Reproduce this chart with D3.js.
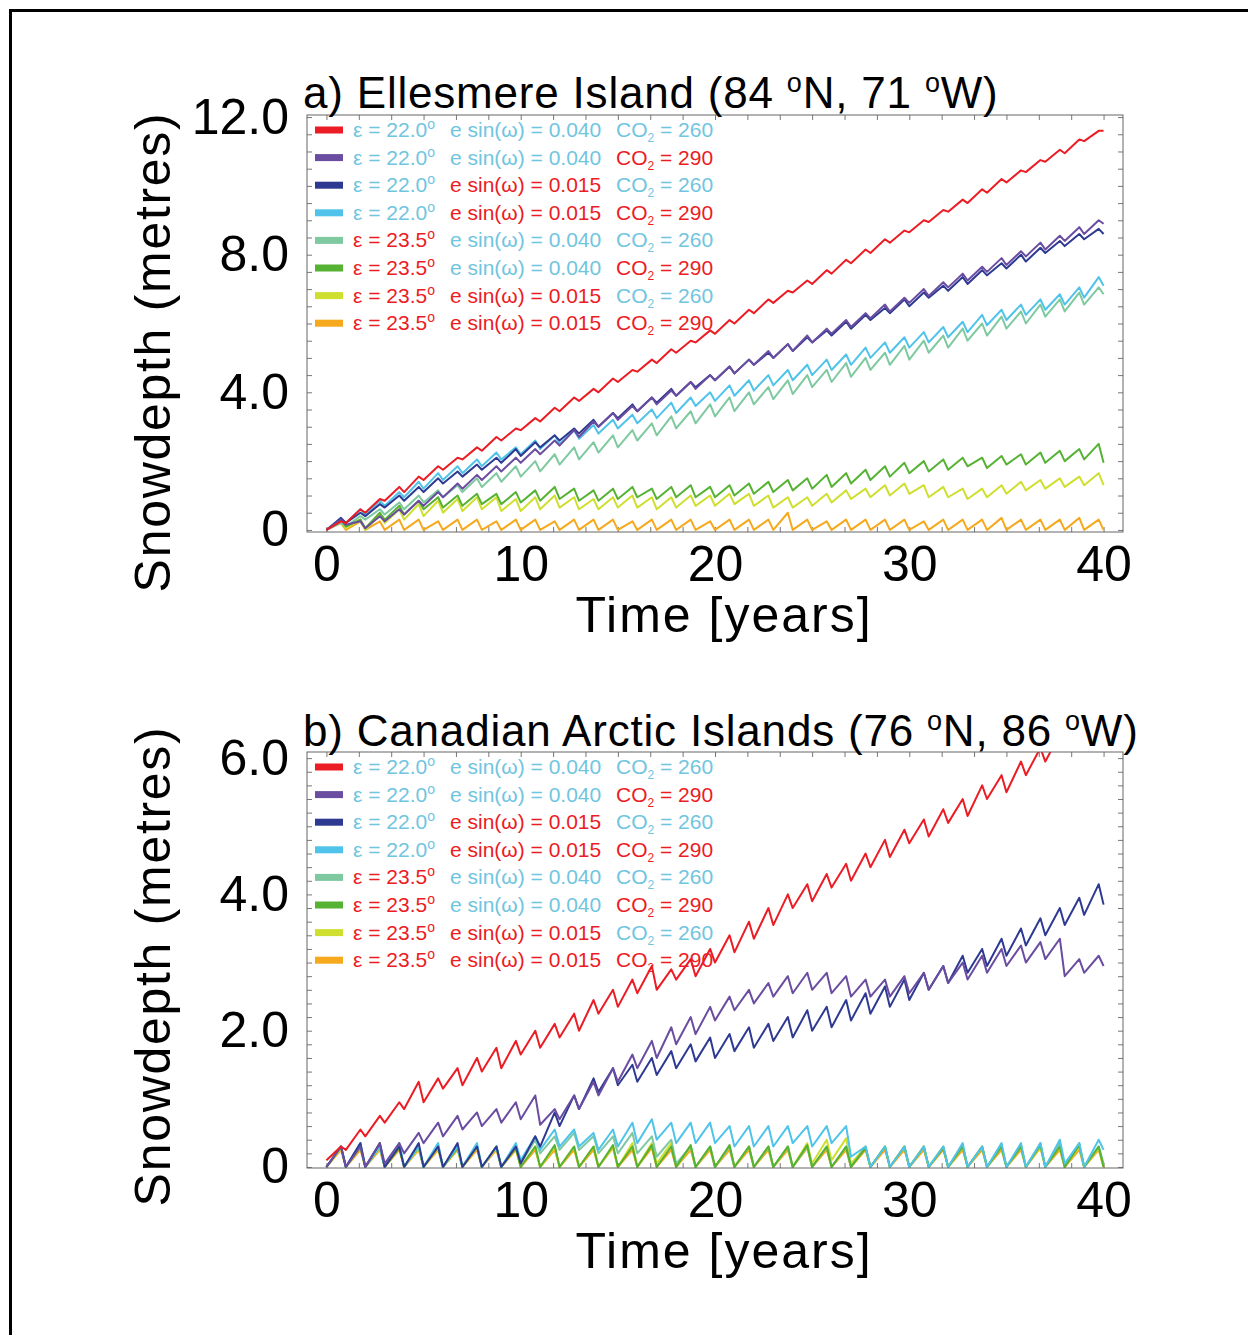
<!DOCTYPE html>
<html>
<head>
<meta charset="utf-8">
<script src="https://cdn.jsdelivr.net/npm/d3@7"></script>
<style>
  body { margin: 0; background: #fff; }
  svg { display: block; }
  text { font-family: "Liberation Sans", Arial, sans-serif; }
</style>
</head>
<body>
<div id="chart"></div>
<script>
// legend rows (same 8 experiments in both panels)
const legendEps = ["22.0", "22.0", "22.0", "22.0", "23.5", "23.5", "23.5", "23.5"];
const legendEsin = ["0.040", "0.040", "0.015", "0.015", "0.040", "0.040", "0.015", "0.015"];
const legendCO2 = ["260", "290", "260", "290", "260", "290", "260", "290"];
const seriesColors = ["#ec1c24", "#6a4ca0", "#2e3a92", "#4fc3ea", "#7fc9a0", "#55b232", "#cfdf30", "#f6a91c"];

const xTickValues = [0, 10, 20, 30, 40];
const aYTickValues = [0, 4, 8, 12];
const bYTickValues = [0, 2, 4, 6];

// each series: value at t=0, then per year [value near end of winter (k+0.75), value after melt (k+1)]
const aRed = [0,
  0.25,0.2, 0.6,0.5, 0.9,0.85, 1.25,1.1, 1.55,1.45, 1.85,1.75, 2.1,2.05, 2.4,2.3, 2.7,2.6, 2.95,2.9,
  3.25,3.15, 3.55,3.45, 3.85,3.75, 4.1,4.0, 4.4,4.3, 4.65,4.6, 4.95,4.85, 5.25,5.15, 5.5,5.45, 5.8,5.7,
  6.1,6.0, 6.4,6.3, 6.7,6.6, 6.95,6.9, 7.25,7.15, 7.55,7.45, 7.85,7.75, 8.15,8.05, 8.45,8.35, 8.7,8.65,
  9.0,8.95, 9.3,9.25, 9.6,9.5, 9.9,9.8, 10.2,10.1, 10.45,10.4, 10.75,10.7, 11.05,10.95, 11.35,11.3, 11.6,11.6];
const aPurple = [0,
  0.3,0.15, 0.25,0.05, 0.4,0.25, 0.6,0.45, 0.85,0.7, 1.1,0.95, 1.35,1.2, 1.6,1.45, 1.85,1.7, 2.1,1.95,
  2.35,2.2, 2.6,2.45, 2.9,2.7, 3.15,3.0, 3.4,3.2, 3.6,3.45, 3.85,3.65, 4.05,3.9, 4.3,4.1, 4.5,4.35,
  4.75,4.55, 4.95,4.8, 5.2,5.0, 5.4,5.2, 5.65,5.45, 5.85,5.7, 6.1,5.9, 6.3,6.15, 6.55,6.35, 6.75,6.6,
  7.0,6.8, 7.2,7.05, 7.45,7.25, 7.65,7.5, 7.9,7.7, 8.1,7.95, 8.35,8.15, 8.55,8.4, 8.8,8.6, 9.0,8.9];
const aBlue = [0,
  0.35,0.2, 0.5,0.4, 0.75,0.65, 1.0,0.85, 1.25,1.1, 1.5,1.35, 1.7,1.55, 1.9,1.75, 2.1,1.95, 2.35,2.15,
  2.55,2.4, 2.75,2.6, 2.95,2.8, 3.2,3.0, 3.4,3.25, 3.65,3.45, 3.85,3.7, 4.1,3.9, 4.3,4.15, 4.5,4.35,
  4.75,4.55, 4.95,4.8, 5.15,5.0, 5.4,5.2, 5.6,5.45, 5.8,5.65, 6.05,5.85, 6.25,6.1, 6.45,6.3, 6.7,6.5,
  6.9,6.75, 7.1,6.95, 7.35,7.15, 7.55,7.4, 7.75,7.6, 8.0,7.8, 8.2,8.05, 8.4,8.25, 8.6,8.45, 8.75,8.6];
const aLightBlue = [0,
  0.3,0.2, 0.6,0.45, 0.85,0.7, 1.1,0.95, 1.4,1.2, 1.65,1.45, 1.85,1.65, 2.05,1.85, 2.25,2.05, 2.4,2.2,
  2.6,2.35, 2.75,2.5, 2.9,2.65, 3.05,2.8, 3.2,2.95, 3.35,3.1, 3.5,3.25, 3.7,3.4, 3.85,3.6, 4.0,3.75,
  4.2,3.9, 4.35,4.05, 4.5,4.2, 4.65,4.35, 4.8,4.5, 4.95,4.65, 5.1,4.8, 5.3,5.0, 5.45,5.15, 5.6,5.3,
  5.75,5.45, 5.9,5.6, 6.05,5.75, 6.25,5.95, 6.4,6.1, 6.55,6.25, 6.7,6.4, 6.85,6.55, 7.05,6.75, 7.35,7.1];
const aTeal = [0,
  0.2,0.1, 0.4,0.3, 0.6,0.45, 0.8,0.6, 1.0,0.8, 1.15,0.95, 1.3,1.1, 1.5,1.25, 1.65,1.4, 1.85,1.55,
  2.0,1.7, 2.2,1.9, 2.4,2.05, 2.55,2.25, 2.75,2.4, 2.9,2.6, 3.1,2.75, 3.3,2.95, 3.45,3.1, 3.65,3.3,
  3.85,3.45, 4.0,3.65, 4.15,3.8, 4.35,3.95, 4.5,4.15, 4.65,4.3, 4.85,4.45, 5.0,4.65, 5.15,4.8, 5.35,4.95,
  5.5,5.15, 5.65,5.3, 5.85,5.5, 6.0,5.65, 6.2,5.85, 6.35,6.0, 6.55,6.2, 6.7,6.35, 6.9,6.55, 7.05,6.85];
const aGreen = [0,
  0.3,0.1, 0.3,0.05, 0.5,0.3, 0.7,0.45, 0.85,0.6, 0.95,0.65, 1.0,0.7, 1.05,0.75, 1.05,0.75, 1.1,0.8,
  1.15,0.85, 1.25,0.9, 1.2,0.85, 1.15,0.85, 1.2,0.9, 1.25,0.95, 1.2,0.9, 1.25,0.95, 1.3,0.95, 1.25,0.95,
  1.3,1.0, 1.35,1.05, 1.4,1.1, 1.45,1.15, 1.5,1.2, 1.6,1.25, 1.65,1.35, 1.75,1.45, 1.85,1.55, 1.95,1.65,
  2.0,1.7, 2.05,1.75, 2.1,1.85, 2.1,1.8, 2.15,1.9, 2.2,1.9, 2.25,1.95, 2.3,2.0, 2.35,2.05, 2.5,1.95];
const aYellow = [0,
  0.25,0.05, 0.3,0.0, 0.45,0.2, 0.6,0.3, 0.75,0.4, 0.85,0.5, 0.9,0.55, 0.95,0.6, 0.95,0.55, 0.9,0.55,
  0.95,0.6, 1.0,0.65, 0.95,0.6, 0.9,0.6, 0.95,0.65, 1.0,0.65, 0.95,0.6, 0.95,0.65, 1.0,0.7, 1.0,0.7,
  1.05,0.75, 1.05,0.7, 1.0,0.65, 0.95,0.65, 0.95,0.7, 1.05,0.8, 1.15,0.9, 1.2,0.95, 1.3,1.0, 1.35,1.05,
  1.3,0.95, 1.25,0.95, 1.2,0.9, 1.2,0.95, 1.3,1.05, 1.4,1.15, 1.45,1.2, 1.5,1.25, 1.55,1.3, 1.65,1.3];
const aOrange = [0,
  0.2,0.0, 0.25,0.0, 0.25,0.0, 0.3,0.0, 0.3,0.0, 0.25,0.0, 0.3,0.0, 0.3,0.0, 0.25,0.0, 0.3,0.0,
  0.3,0.0, 0.25,0.0, 0.3,0.0, 0.3,0.0, 0.3,0.0, 0.25,0.0, 0.3,0.0, 0.3,0.0, 0.3,0.0, 0.25,0.0,
  0.3,0.0, 0.3,0.0, 0.3,0.0, 0.5,0.0, 0.3,0.0, 0.25,0.0, 0.3,0.0, 0.3,0.0, 0.3,0.0, 0.3,0.0,
  0.25,0.0, 0.3,0.0, 0.3,0.0, 0.3,0.0, 0.35,0.0, 0.3,0.0, 0.3,0.0, 0.3,0.0, 0.35,0.0, 0.3,0.0];

const bRed = [0.1,
  0.3,0.25, 0.55,0.45, 0.75,0.65, 0.95,0.85, 1.25,0.95, 1.3,1.15, 1.45,1.2, 1.6,1.4, 1.75,1.45, 1.85,1.65,
  2.0,1.75, 2.1,1.9, 2.25,2.0, 2.45,2.25, 2.6,2.35, 2.75,2.55, 2.95,2.6, 2.9,2.75, 3.05,2.8, 3.2,3.0,
  3.4,3.15, 3.6,3.35, 3.8,3.55, 4.0,3.8, 4.15,3.9, 4.3,4.1, 4.45,4.2, 4.6,4.4, 4.8,4.55, 4.95,4.75,
  5.1,4.85, 5.25,5.05, 5.4,5.15, 5.6,5.4, 5.75,5.5, 5.95,5.75, 6.15,5.95, 6.35,6.2, 6.5,6.35, 6.7,6.55];
const bPurple = [0,
  0.3,0.0, 0.3,0.0, 0.35,0.05, 0.35,0.2, 0.5,0.35, 0.65,0.45, 0.75,0.55, 0.8,0.6, 0.85,0.65, 0.95,0.7,
  1.05,0.62, 0.85,0.7, 1.05,0.85, 1.25,1.05, 1.45,1.25, 1.65,1.45, 1.85,1.6, 2.05,1.8, 2.2,1.95, 2.35,2.15,
  2.5,2.3, 2.6,2.4, 2.7,2.5, 2.8,2.55, 2.85,2.6, 2.85,2.55, 2.8,2.5, 2.75,2.5, 2.75,2.5, 2.8,2.55,
  2.85,2.6, 2.95,2.7, 3.0,2.75, 3.1,2.85, 3.2,2.95, 3.25,3.0, 3.3,3.05, 3.35,2.8, 3.05,2.85, 3.1,2.95];
const bBlue = [0,
  0.3,0.0, 0.35,0.0, 0.35,0.0, 0.3,0.0, 0.35,0.0, 0.3,0.0, 0.35,0.0, 0.3,0.0, 0.3,0.0, 0.3,0.05,
  0.45,0.3, 0.8,0.6, 1.05,0.85, 1.3,1.1, 1.45,1.2, 1.5,1.25, 1.6,1.35, 1.7,1.45, 1.8,1.55, 1.9,1.6,
  1.95,1.7, 2.05,1.75, 2.1,1.85, 2.2,1.9, 2.3,2.0, 2.35,2.05, 2.45,2.15, 2.55,2.25, 2.65,2.35, 2.75,2.45,
  2.85,2.6, 2.95,2.7, 3.1,2.85, 3.2,2.95, 3.35,3.1, 3.5,3.25, 3.65,3.4, 3.8,3.55, 3.95,3.7, 4.15,3.85];
const bLightBlue = [0,
  0.3,0.0, 0.35,0.0, 0.3,0.0, 0.35,0.0, 0.3,0.0, 0.35,0.0, 0.3,0.0, 0.35,0.0, 0.3,0.0, 0.35,0.1,
  0.45,0.25, 0.55,0.3, 0.55,0.3, 0.5,0.25, 0.55,0.3, 0.65,0.35, 0.7,0.4, 0.65,0.35, 0.65,0.35, 0.65,0.35,
  0.6,0.3, 0.6,0.3, 0.6,0.3, 0.6,0.35, 0.6,0.3, 0.6,0.35, 0.6,0.15, 0.3,0.0, 0.3,0.0, 0.3,0.0,
  0.3,0.0, 0.3,0.0, 0.35,0.0, 0.3,0.0, 0.35,0.0, 0.35,0.0, 0.35,0.0, 0.4,0.05, 0.35,0.0, 0.4,0.25];
const bTeal = [0,
  0.3,0.0, 0.3,0.0, 0.3,0.0, 0.3,0.0, 0.3,0.0, 0.3,0.0, 0.3,0.0, 0.3,0.0, 0.3,0.0, 0.3,0.05,
  0.4,0.2, 0.45,0.25, 0.5,0.25, 0.45,0.2, 0.45,0.2, 0.5,0.2, 0.45,0.15, 0.4,0.05, 0.3,0.0, 0.3,0.0,
  0.3,0.0, 0.3,0.0, 0.3,0.0, 0.3,0.0, 0.3,0.0, 0.3,0.0, 0.3,0.0, 0.3,0.0, 0.3,0.0, 0.3,0.0,
  0.3,0.0, 0.3,0.0, 0.3,0.0, 0.3,0.0, 0.3,0.0, 0.3,0.0, 0.35,0.0, 0.35,0.0, 0.35,0.0, 0.3,0.05];
const bGreen = [0,
  0.3,0.0, 0.3,0.0, 0.3,0.0, 0.28,0.0, 0.3,0.0, 0.3,0.0, 0.28,0.0, 0.3,0.0, 0.3,0.0, 0.28,0.0,
  0.3,0.0, 0.32,0.0, 0.3,0.0, 0.3,0.0, 0.32,0.0, 0.3,0.0, 0.32,0.0, 0.3,0.0, 0.32,0.0, 0.3,0.0,
  0.32,0.0, 0.3,0.0, 0.3,0.0, 0.3,0.0, 0.32,0.0, 0.3,0.0, 0.3,0.0, 0.28,0.0, 0.3,0.0, 0.3,0.0,
  0.3,0.0, 0.28,0.0, 0.3,0.0, 0.3,0.0, 0.3,0.0, 0.3,0.0, 0.32,0.0, 0.3,0.0, 0.32,0.0, 0.3,0.0];
const bYellow = [0,
  0.28,0.0, 0.3,0.0, 0.28,0.0, 0.3,0.0, 0.28,0.0, 0.3,0.0, 0.28,0.0, 0.3,0.0, 0.28,0.0, 0.3,0.0,
  0.3,0.0, 0.3,0.0, 0.3,0.0, 0.3,0.0, 0.3,0.0, 0.35,0.0, 0.35,0.05, 0.35,0.0, 0.3,0.0, 0.3,0.0,
  0.3,0.0, 0.3,0.0, 0.3,0.0, 0.3,0.0, 0.35,0.05, 0.4,0.1, 0.42,0.05, 0.3,0.0, 0.3,0.0, 0.3,0.0,
  0.3,0.0, 0.3,0.0, 0.3,0.0, 0.3,0.0, 0.3,0.0, 0.3,0.0, 0.3,0.0, 0.3,0.0, 0.3,0.0, 0.28,0.0];
const bOrange = [0,
  0.25,0.0, 0.25,0.0, 0.25,0.0, 0.25,0.0, 0.25,0.0, 0.25,0.0, 0.25,0.0, 0.25,0.0, 0.25,0.0, 0.25,0.0,
  0.25,0.0, 0.25,0.0, 0.25,0.0, 0.25,0.0, 0.28,0.0, 0.25,0.0, 0.28,0.0, 0.25,0.0, 0.25,0.0, 0.25,0.0,
  0.25,0.0, 0.25,0.0, 0.25,0.0, 0.25,0.0, 0.28,0.0, 0.25,0.0, 0.25,0.0, 0.25,0.0, 0.25,0.0, 0.25,0.0,
  0.25,0.0, 0.25,0.0, 0.25,0.0, 0.25,0.0, 0.25,0.0, 0.25,0.0, 0.28,0.0, 0.25,0.0, 0.25,0.0, 0.25,0.0];

const cyanText = "#70c5df";
const redText = "#ec1c24";
const fontFamily = '"Liberation Sans", Arial, sans-serif';

const width = 1248, height = 1335;
const svg = d3.select("#chart").append("svg")
    .attr("width", width)
    .attr("height", height);

// outer frame (runs off the right and bottom edge)
svg.append("rect")
    .attr("x", 10.5).attr("y", 10.5)
    .attr("width", 1400).attr("height", 1400)
    .attr("fill", "none").attr("stroke", "#000").attr("stroke-width", 3);

const x = d3.scaleLinear().domain([-1, 41]).range([307, 1123]);

function toPoints(arr) {
    const pts = [[0, arr[0]]];
    for (let k = 0; k < (arr.length - 1) / 2; k++) {
        pts.push([k + 0.75, arr[1 + 2 * k]]);
        pts.push([k + 1, arr[2 + 2 * k]]);
    }
    return pts;
}

function drawPanel(cfg) {
    const y = d3.scaleLinear().domain(cfg.yDomain).range([cfg.bottom, cfg.top]);
    const g = svg.append("g");

    const clipId = "clip-" + cfg.id;
    svg.append("clipPath").attr("id", clipId)
        .append("rect")
        .attr("x", x.range()[0]).attr("y", cfg.top)
        .attr("width", x.range()[1] - x.range()[0]).attr("height", cfg.bottom - cfg.top);

    // minor ticks on all four sides (every 20 months on x)
    const xMinor = d3.range(0, 40.01, 5 / 3);
    const yMinor = d3.range(0, cfg.yDomain[1], cfg.yMinorStep);
    g.append("g").attr("transform", `translate(0,${cfg.bottom})`)
        .call(d3.axisBottom(x).tickValues(xMinor).tickSize(-5).tickFormat(""))
        .call(a => a.select(".domain").remove());
    g.append("g").attr("transform", `translate(0,${cfg.top})`)
        .call(d3.axisTop(x).tickValues(xMinor).tickSize(-5).tickFormat(""))
        .call(a => a.select(".domain").remove());
    g.append("g").attr("transform", `translate(${x.range()[0]},0)`)
        .call(d3.axisLeft(y).tickValues(yMinor).tickSize(-5).tickFormat(""))
        .call(a => a.select(".domain").remove());
    g.append("g").attr("transform", `translate(${x.range()[1]},0)`)
        .call(d3.axisRight(y).tickValues(yMinor).tickSize(-5).tickFormat(""))
        .call(a => a.select(".domain").remove());
    g.selectAll(".tick line").attr("stroke", "#777");

    // legend
    const lg = g.append("g");
    legendEps.forEach(function (eps, i) {
        const ly = cfg.legendTop + i * 27.6;
        lg.append("rect")
            .attr("x", 315).attr("y", ly - 3.5)
            .attr("width", 28).attr("height", 7)
            .attr("fill", seriesColors[i]);
        const t1 = lg.append("text").attr("x", 353).attr("y", ly + 7)
            .attr("font-size", 21).attr("fill", eps === "22.0" ? cyanText : redText);
        t1.append("tspan").text("\u03b5 = " + eps);
        t1.append("tspan").attr("dy", -8).attr("font-size", 14).text("o");
        lg.append("text").attr("x", 450).attr("y", ly + 7)
            .attr("font-size", 21).attr("fill", legendEsin[i] === "0.040" ? cyanText : redText)
            .text("e sin(\u03c9) = " + legendEsin[i]);
        const t3 = lg.append("text").attr("x", 616).attr("y", ly + 7)
            .attr("font-size", 21).attr("fill", legendCO2[i] === "260" ? cyanText : redText);
        t3.append("tspan").text("CO");
        t3.append("tspan").attr("dy", 5).attr("font-size", 12).text("2");
        t3.append("tspan").attr("dy", -5).text(" = " + legendCO2[i]);
    });

    // lines
    const line = d3.line().x(d => x(d[0])).y(d => y(d[1]));
    const lines = g.append("g").attr("clip-path", `url(#${clipId})`);
    cfg.drawOrder.forEach(function (i) {
        lines.append("path")
            .datum(toPoints(cfg.series[i]))
            .attr("fill", "none")
            .attr("stroke", seriesColors[i])
            .attr("stroke-width", 2)
            .attr("stroke-linejoin", "round")
            .attr("d", line);
    });

    // frame
    g.append("rect")
        .attr("x", x.range()[0]).attr("y", cfg.top)
        .attr("width", x.range()[1] - x.range()[0]).attr("height", cfg.bottom - cfg.top)
        .attr("fill", "none").attr("stroke", "#666").attr("stroke-width", 1);

    // tick labels
    const fmt = d => d === 0 ? "0" : d.toFixed(1);
    g.append("g").attr("transform", `translate(${x.range()[0]},0)`)
        .call(d3.axisLeft(y).tickValues(cfg.yTicks).tickSize(0).tickPadding(18).tickFormat(fmt))
        .call(a => a.select(".domain").remove())
        .selectAll("text").attr("font-size", 50).attr("font-family", fontFamily).attr("fill", "#000");
    g.append("g").attr("transform", `translate(0,${cfg.bottom})`)
        .call(d3.axisBottom(x).tickValues(xTickValues).tickSize(0).tickPadding(13).tickFormat(d3.format("d")))
        .call(a => a.select(".domain").remove())
        .selectAll("text").attr("font-size", 50).attr("font-family", fontFamily).attr("fill", "#000");

    // axis titles
    g.append("text")
        .attr("x", 724).attr("y", cfg.bottom + 100)
        .attr("text-anchor", "middle").attr("font-size", 50)
        .attr("letter-spacing", 2)
        .text("Time [years]");
    g.append("text")
        .attr("transform", `translate(170,${cfg.yTitleY}) rotate(-90)`)
        .attr("text-anchor", "middle").attr("font-size", 50)
        .attr("letter-spacing", 1.7)
        .text("Snowdepth (metres)");

    // panel title
    const tt = g.append("text").attr("x", 303).attr("y", cfg.titleY)
        .attr("font-size", 44).attr("letter-spacing", 0.8);
    tt.append("tspan").text(cfg.title[0]);
    tt.append("tspan").attr("dy", -16).attr("font-size", 27).text("o");
    tt.append("tspan").attr("dy", 16).text(cfg.title[1]);
    tt.append("tspan").attr("dy", -16).attr("font-size", 27).text("o");
    tt.append("tspan").attr("dy", 16).text(cfg.title[2]);
}

const drawOrder = [7, 6, 4, 5, 3, 2, 1, 0];

drawPanel({
    id: "a", top: 115, bottom: 532, yDomain: [-0.06, 12.06], yTicks: aYTickValues, yMinorStep: 0.5,
    legendTop: 130, titleY: 108, yTitleY: 352,
    title: ["a) Ellesmere Island (84 ", "N, 71 ", "W)"],
    series: [aRed, aPurple, aBlue, aLightBlue, aTeal, aGreen, aYellow, aOrange],
    drawOrder: drawOrder
});

drawPanel({
    id: "b", top: 752, bottom: 1168, yDomain: [-0.015, 6.09], yTicks: bYTickValues, yMinorStep: 0.2,
    legendTop: 767, titleY: 746, yTitleY: 966,
    title: ["b) Canadian Arctic Islands (76 ", "N, 86 ", "W)"],
    series: [bRed, bPurple, bBlue, bLightBlue, bTeal, bGreen, bYellow, bOrange],
    drawOrder: drawOrder
});
</script>
</body>
</html>
